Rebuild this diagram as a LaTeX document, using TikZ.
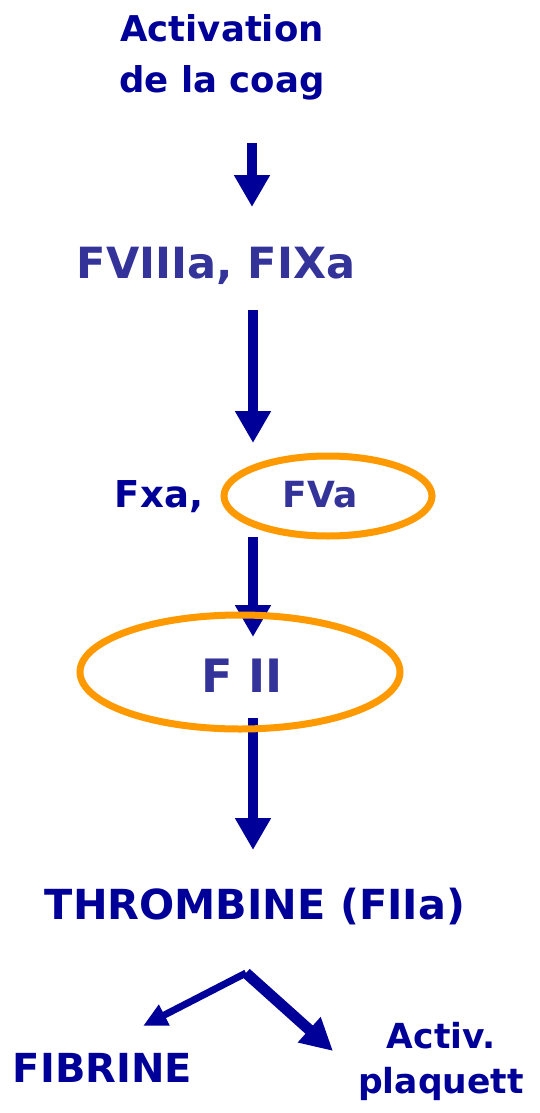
\documentclass[tikz,border=0pt]{standalone}
\usepackage{fontspec}
\setmainfont{DejaVu Sans}
\usetikzlibrary{arrows.meta}
\definecolor{navy}{HTML}{000099}
\definecolor{lnavy}{HTML}{333399}
\definecolor{orng}{HTML}{FF9900}
\newcommand{\fsz}[2]{\fontsize{#1}{#2}\selectfont\bfseries}
\tikzset{
  lbl/.style={text=navy, inner sep=0pt, align=center, anchor=base},
  lbl2/.style={lbl, text=lnavy},
  bigarrow/.style={draw=navy, line width=10pt, -{Triangle[width=34pt,length=32pt]}},
  ring/.style={draw=orng, line width=7pt}
}
\begin{document}
\begin{tikzpicture}[x=1pt,y=-1pt]
\useasboundingbox (0,0) rectangle (539,1113);
\node[lbl, font=\fsz{35.5}{51}] (act) at (222,93) {Activation\\de la coag};
\node[lbl2, font=\fsz{43}{50}] (f8) at (216,278) {FVIIIa, FIXa};
\node[lbl, font=\fsz{37}{44}] (fxa) at (159,507) {Fxa,};
\node[lbl2, font=\fsz{36}{44}] (fva) at (320,507) {FVa};
\node[lbl2, font=\fsz{46}{54}] (f2) at (242,692) {F II};
\node[lbl, font=\fsz{41.4}{50}] (thr) at (255,919) {THROMBINE (FIIa)};
\node[lbl, font=\fsz{40}{48}] (fib) at (102.5,1082) {FIBRINE};
\node[lbl, font=\fsz{34.5}{45}] (plq) at (441,1093) {Activ.\\plaquett};
\coordinate (a1s) at (252,143);
\coordinate (a1e) at (252,207);
\coordinate (a2s) at (253,310);
\coordinate (a2e) at (253,443);
\coordinate (a3s) at (253,537);
\coordinate (a3e) at (253,637);
\coordinate (a4s) at (253,718);
\coordinate (a4e) at (253,850);
\coordinate (apex) at (246,973);
\coordinate (lt) at (143,1026);
\coordinate (rt) at (333,1051);
\draw[bigarrow] (a1s) -- (a1e);
\draw[bigarrow] (a2s) -- (a2e);
\draw[bigarrow] (a3s) -- (a3e);
\draw[bigarrow] (a4s) -- (a4e);
\draw[draw=navy, line width=7pt, -{Triangle[width=22pt,length=24pt]}] (apex) -- (lt);
\draw[draw=navy, line width=11pt, -{Triangle[width=32pt,length=32pt]}] (apex) -- (rt);
\draw[ring] (328,496) ellipse [x radius=104, y radius=40];
\draw[ring] (240,672) ellipse [x radius=160, y radius=57];
\end{tikzpicture}
\end{document}
